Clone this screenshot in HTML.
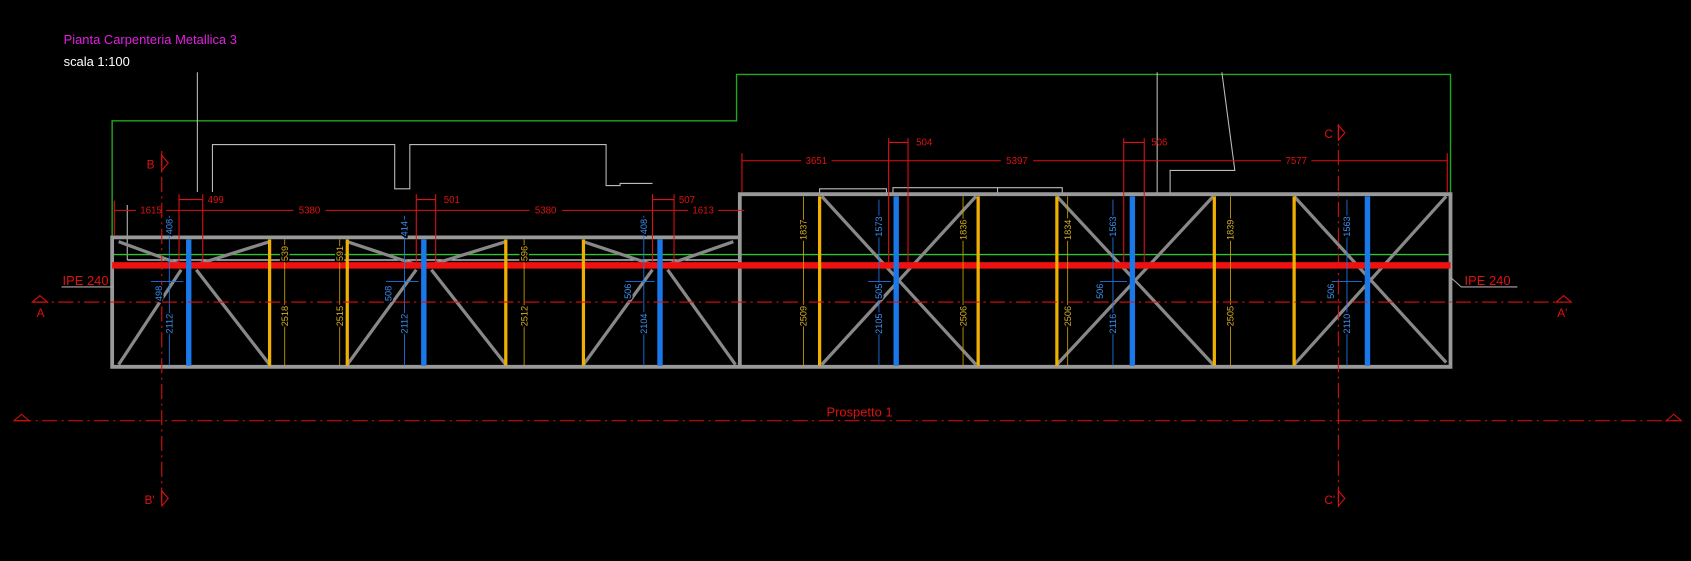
<!DOCTYPE html>
<html><head><meta charset="utf-8"><style>
html,body{margin:0;padding:0;background:#000;}
svg{display:block}
text{font-family:"Liberation Sans",sans-serif;}
.lb text{paint-order:stroke;stroke:#000;stroke-width:3px;}
</style></head><body>
<svg width="1691" height="561" viewBox="0 0 1568 520" preserveAspectRatio="none" xmlns="http://www.w3.org/2000/svg">
<rect width="1568" height="520" fill="#000"/>
<text x="59" y="41" fill="#e020e0" font-size="12">Pianta Carpenteria Metallica 3</text>
<text x="59" y="61" fill="#fff" font-size="12">scala 1:100</text>
<polyline points="104,220 104,112 683,112 683,69 1345,69 1345,180" fill="none" stroke="#1fa81f" stroke-width="1.3"/>
<g fill="none" stroke="#bbb" stroke-width="1">
<line x1="183" y1="67" x2="183" y2="178"/>
<polyline points="197,178 197,134 366,134 366,175 380,175 380,134 562,134 562,172 575,172 575,170 605,170"/>
<line x1="1073" y1="67" x2="1073" y2="180"/>
<polyline points="1133,67 1145,158 1085,158 1085,180"/>
<polyline points="118,241 118,190"/>
<polyline points="760,180 760,175 822,175 822,180"/>
<polyline points="828,180 828,174 985,174 985,180"/>
<polyline points="925,180 925,174"/>
</g>
<line x1="118" y1="241" x2="686" y2="241" stroke="#ddd" stroke-width="1.2"/>
<line x1="104" y1="236" x2="1345" y2="236" stroke="#2ec42e" stroke-width="1.3"/>
<g stroke="#888" stroke-width="3" fill="none">
<line x1="110" y1="224" x2="170" y2="246"/><line x1="250" y1="224" x2="180" y2="246"/>
<line x1="168" y1="250" x2="110" y2="338"/><line x1="182" y1="250" x2="250" y2="338"/>
<line x1="322" y1="224" x2="388" y2="246"/><line x1="469" y1="224" x2="398" y2="246"/>
<line x1="386" y1="250" x2="322" y2="338"/><line x1="400" y1="250" x2="469" y2="338"/>
<line x1="541" y1="224" x2="607" y2="246"/><line x1="680" y1="224" x2="617" y2="246"/>
<line x1="605" y1="250" x2="541" y2="338"/><line x1="619" y1="250" x2="682" y2="338"/>
<line x1="762" y1="182" x2="905" y2="338"/><line x1="905" y1="182" x2="762" y2="338"/>
<line x1="980" y1="182" x2="1125" y2="338"/><line x1="1125" y1="182" x2="980" y2="338"/>
<line x1="1200" y1="182" x2="1341" y2="336"/><line x1="1341" y1="182" x2="1200" y2="338"/>
</g>
<g stroke="#999" stroke-width="3.5" fill="none">
<polyline points="686,220 104,220 104,340 1345,340 1345,180 686,180 686,340"/>
</g>
<rect x="104" y="243" width="1241" height="6" fill="#ee1111"/>
<g stroke="#f0b000" stroke-width="3">
<line x1="250" y1="222" x2="250" y2="339"/><line x1="322" y1="222" x2="322" y2="339"/>
<line x1="469" y1="222" x2="469" y2="339"/><line x1="541" y1="222" x2="541" y2="339"/>
<line x1="760" y1="182" x2="760" y2="339"/><line x1="907" y1="182" x2="907" y2="339"/>
<line x1="980" y1="182" x2="980" y2="339"/><line x1="1126" y1="182" x2="1126" y2="339"/>
<line x1="1200" y1="182" x2="1200" y2="339"/>
</g>
<g stroke="#c8a000" stroke-width="0.8">
<line x1="264" y1="222" x2="264" y2="339"/><line x1="315" y1="222" x2="315" y2="339"/>
<line x1="486" y1="222" x2="486" y2="339"/><line x1="745" y1="182" x2="745" y2="339"/>
<line x1="893" y1="182" x2="893" y2="339"/><line x1="990" y1="182" x2="990" y2="339"/>
<line x1="1141" y1="182" x2="1141" y2="339"/>
</g>
<g stroke="#1a78e8" stroke-width="5">
<line x1="175" y1="222" x2="175" y2="339"/><line x1="393" y1="222" x2="393" y2="339"/>
<line x1="612" y1="222" x2="612" y2="339"/><line x1="831" y1="182" x2="831" y2="339"/>
<line x1="1050" y1="182" x2="1050" y2="339"/><line x1="1268" y1="182" x2="1268" y2="339"/>
</g>
<g stroke="#1a78e8" stroke-width="0.8">
<line x1="157" y1="200" x2="157" y2="339"/><line x1="375" y1="200" x2="375" y2="339"/>
<line x1="597" y1="200" x2="597" y2="339"/><line x1="815" y1="185" x2="815" y2="339"/>
<line x1="1032" y1="185" x2="1032" y2="339"/><line x1="1249" y1="185" x2="1249" y2="339"/>
<line x1="140" y1="261" x2="170" y2="261"/><line x1="358" y1="261" x2="388" y2="261"/>
<line x1="580" y1="261" x2="607" y2="261"/><line x1="805" y1="261" x2="826" y2="261"/>
<line x1="1020" y1="261" x2="1045" y2="261"/><line x1="1235" y1="261" x2="1263" y2="261"/>
</g>
<g stroke="#dd1111" stroke-width="1" fill="none">
<line x1="106" y1="195" x2="690" y2="195"/>
<line x1="106" y1="186" x2="106" y2="218"/><line x1="166" y1="180" x2="166" y2="243"/><line x1="188" y1="180" x2="188" y2="243"/>
<line x1="166" y1="185" x2="188" y2="185"/>
<line x1="386" y1="180" x2="386" y2="243"/><line x1="404" y1="180" x2="404" y2="243"/><line x1="386" y1="185" x2="404" y2="185"/>
<line x1="605" y1="180" x2="605" y2="243"/><line x1="625" y1="180" x2="625" y2="243"/><line x1="605" y1="185" x2="625" y2="185"/>
<line x1="688" y1="149" x2="1342" y2="149"/>
<line x1="688" y1="142" x2="688" y2="178"/><line x1="824" y1="128" x2="824" y2="243"/><line x1="842" y1="128" x2="842" y2="243"/>
<line x1="824" y1="132" x2="842" y2="132"/>
<line x1="1042" y1="128" x2="1042" y2="243"/><line x1="1061" y1="128" x2="1061" y2="243"/><line x1="1042" y1="132" x2="1061" y2="132"/>
<line x1="1342" y1="142" x2="1342" y2="178"/>
</g>
<g fill="#dd1111" font-size="9" text-anchor="middle">
<rect x="126" y="189" width="28" height="11" fill="#000"/><text x="140" y="198">1615</text>
<text x="200" y="188">499</text>
<rect x="272" y="189" width="30" height="11" fill="#000"/><text x="287" y="198">5380</text>
<text x="419" y="188">501</text>
<rect x="491" y="189" width="30" height="11" fill="#000"/><text x="506" y="198">5380</text>
<text x="637" y="188">507</text>
<rect x="638" y="189" width="28" height="11" fill="#000"/><text x="652" y="198">1613</text>
<rect x="743" y="143" width="28" height="11" fill="#000"/><text x="757" y="152">3651</text>
<text x="857" y="135">504</text>
<rect x="928" y="143" width="30" height="11" fill="#000"/><text x="943" y="152">5397</text>
<text x="1075" y="135">506</text>
<rect x="1188" y="143" width="28" height="11" fill="#000"/><text x="1202" y="152">7577</text>
</g>
<g stroke="#dd1111" stroke-width="1" stroke-dasharray="14,4,2,4" fill="none">
<line x1="30" y1="280" x2="1450" y2="280"/>
<line x1="15" y1="390" x2="1555" y2="390"/>
<line x1="150" y1="140" x2="150" y2="470"/>
<line x1="1241" y1="115" x2="1241" y2="470"/>
</g>
<g fill="none" stroke="#dd1111" stroke-width="1">
<path d="M30,280 L37,274 L44,280 Z"/><path d="M1443,280 L1450,274 L1457,280 Z"/>
<path d="M13,390 L20,384 L27,390 Z"/><path d="M1545,390 L1552,384 L1559,390 Z"/>
<path d="M150,144 L156,151 L150,158 Z"/><path d="M150,455 L156,462 L150,469 Z"/>
<path d="M1241,116 L1247,123 L1241,130 Z"/><path d="M1241,455 L1247,462 L1241,469 Z"/>
<polyline points="57,266 105,266" stroke="#aaa"/><polyline points="1345,257 1355,266 1407,266" stroke="#aaa"/>
</g>
<g fill="#dd1111" font-size="11">
<text x="34" y="294">A</text><text x="1444" y="294">A'</text>
<text x="136" y="156">B</text><text x="134" y="467">B'</text>
<text x="1228" y="128">C</text><text x="1228" y="467">C'</text>
<text x="58" y="264" font-size="12">IPE 240</text><text x="1358" y="264" font-size="12">IPE 240</text>
<text x="797" y="386" text-anchor="middle" font-size="12">Prospetto 1</text>
</g>
<g font-size="8.5" text-anchor="middle" class="lb">
<g fill="#3a8ff0">
<text transform="translate(160,210) rotate(-90)">408</text>
<text transform="translate(378,212) rotate(-90)">414</text>
<text transform="translate(600,210) rotate(-90)">408</text>
<text transform="translate(818,210) rotate(-90)">1573</text>
<text transform="translate(1035,210) rotate(-90)">1563</text>
<text transform="translate(1252,210) rotate(-90)">1563</text>
<text transform="translate(150,272) rotate(-90)">498</text>
<text transform="translate(160,300) rotate(-90)">2112</text>
<text transform="translate(363,272) rotate(-90)">508</text>
<text transform="translate(378,300) rotate(-90)">2112</text>
<text transform="translate(585,270) rotate(-90)">506</text>
<text transform="translate(600,300) rotate(-90)">2104</text>
<text transform="translate(818,270) rotate(-90)">505</text>
<text transform="translate(818,300) rotate(-90)">2105</text>
<text transform="translate(1023,270) rotate(-90)">506</text>
<text transform="translate(1035,300) rotate(-90)">2116</text>
<text transform="translate(1237,270) rotate(-90)">506</text>
<text transform="translate(1252,300) rotate(-90)">2110</text>
</g>
<g fill="#d8b020">
<text transform="translate(267,235) rotate(-90)">539</text>
<text transform="translate(267,293) rotate(-90)">2518</text>
<text transform="translate(318,235) rotate(-90)">591</text>
<text transform="translate(318,293) rotate(-90)">2515</text>
<text transform="translate(489,235) rotate(-90)">596</text>
<text transform="translate(489,293) rotate(-90)">2512</text>
<text transform="translate(748,213) rotate(-90)">1837</text>
<text transform="translate(748,293) rotate(-90)">2509</text>
<text transform="translate(896,213) rotate(-90)">1836</text>
<text transform="translate(896,293) rotate(-90)">2506</text>
<text transform="translate(993,213) rotate(-90)">1834</text>
<text transform="translate(993,293) rotate(-90)">2506</text>
<text transform="translate(1144,213) rotate(-90)">1839</text>
<text transform="translate(1144,293) rotate(-90)">2505</text>
</g>
</g>
</svg>
</body></html>
